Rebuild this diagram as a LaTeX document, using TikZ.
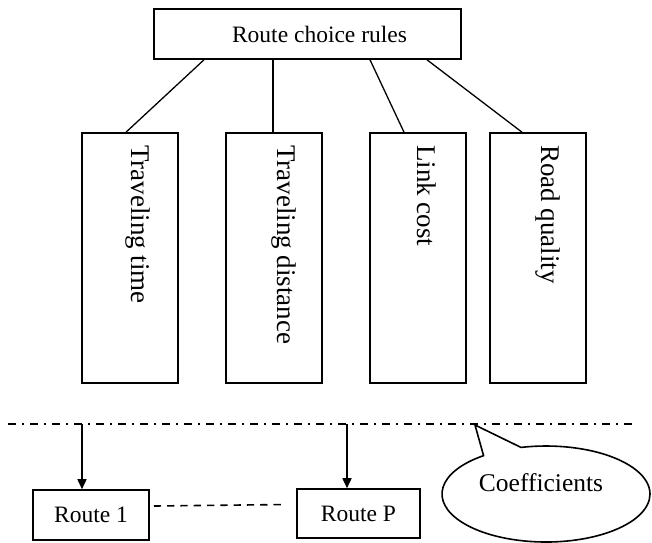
\documentclass[tikz,border=0pt]{standalone}
\usepackage{fontspec}
\setmainfont{Liberation Serif}
\usetikzlibrary{arrows.meta,shapes.callouts}

\begin{document}
\begin{tikzpicture}[x=1pt,y=-1pt,line width=1.6pt,
  box/.style={draw,minimum width=96pt,minimum height=250pt,inner sep=0pt},
  vtext/.style={rotate=-90,anchor=west,inner sep=0pt,font=\fontsize{27}{32}\selectfont},
  rbox/.style={draw,minimum height=50pt,inner sep=0pt,font=\fontsize{23.5}{28}\selectfont},
  link/.style={line width=1.3pt},
  dashdot/.style={line width=1.6pt,dash pattern=on 7.5pt off 6.5pt on 1.7pt off 6.3pt},
  flow/.style={line width=1.6pt,-{Triangle[length=10pt,width=9pt]}}]
\useasboundingbox (0,0) rectangle (652,542);

% Top box
\node[rbox,minimum width=307pt] (rules) at (307.5,34) {\hspace*{24pt}Route choice rules};

% Four criteria
\node[box] (time) at (130,258) {};
\node[box] (dist) at (274,258) {};
\node[box] (cost) at (418,258) {};
\node[box] (qual) at (538,258) {};

\node[vtext] (timelab) at ([xshift=8pt,yshift=-12pt]time.north) {Traveling time};
\node[vtext] (distlab) at ([xshift=10pt,yshift=-12pt]dist.north) {Traveling distance};
\node[vtext] (costlab) at ([xshift=9pt,yshift=-12pt]cost.north) {Link cost};
\node[vtext] (quallab) at ([xshift=10pt,yshift=-12pt]qual.north) {Road quality};

% Links to the rules
\draw[link] ([xshift=-103.5pt]rules.south) -- ([xshift=-4pt]time.north);
\draw[link] ([xshift=-34.5pt]rules.south) -- ([xshift=-1pt]dist.north);
\draw[link] ([xshift=62.5pt]rules.south) -- ([xshift=-14pt]cost.north);
\draw[link] ([xshift=119.5pt]rules.south) -- ([xshift=-16pt]qual.north);

% Separator
\coordinate (sepl) at (8,424);
\coordinate (sepr) at (635,424);
\draw[dashdot] (sepl) -- (sepr);

% Routes
\node[rbox,minimum width=116pt] (r1) at (91,515) {Route 1};
\node[rbox,minimum width=123pt,minimum height=49pt] (rP) at (358.5,513.5) {Route P};

\coordinate (a1) at (82,424);
\coordinate (aP) at (347,424);
\draw[flow] (a1) -- (a1 |- r1.north);
\draw[flow] (aP) -- (aP |- rP.north);
\draw[line width=1.6pt,dash pattern=on 7.3pt off 6pt] ([xshift=4pt,yshift=9pt]r1.east) -- ([xshift=-10pt,yshift=9pt]rP.west);

% Callout
\node[ellipse callout,draw,fill=white,minimum width=208pt,minimum height=96pt,inner sep=0pt,
  callout absolute pointer={(475,425)},callout pointer arc=23] (coef) at (546,494) {};
\node[font=\fontsize{25.5}{30}\selectfont,inner sep=0pt] (coeflab) at ([xshift=-5pt,yshift=11pt]coef.center) {Coefficients};
\end{tikzpicture}
\end{document}
